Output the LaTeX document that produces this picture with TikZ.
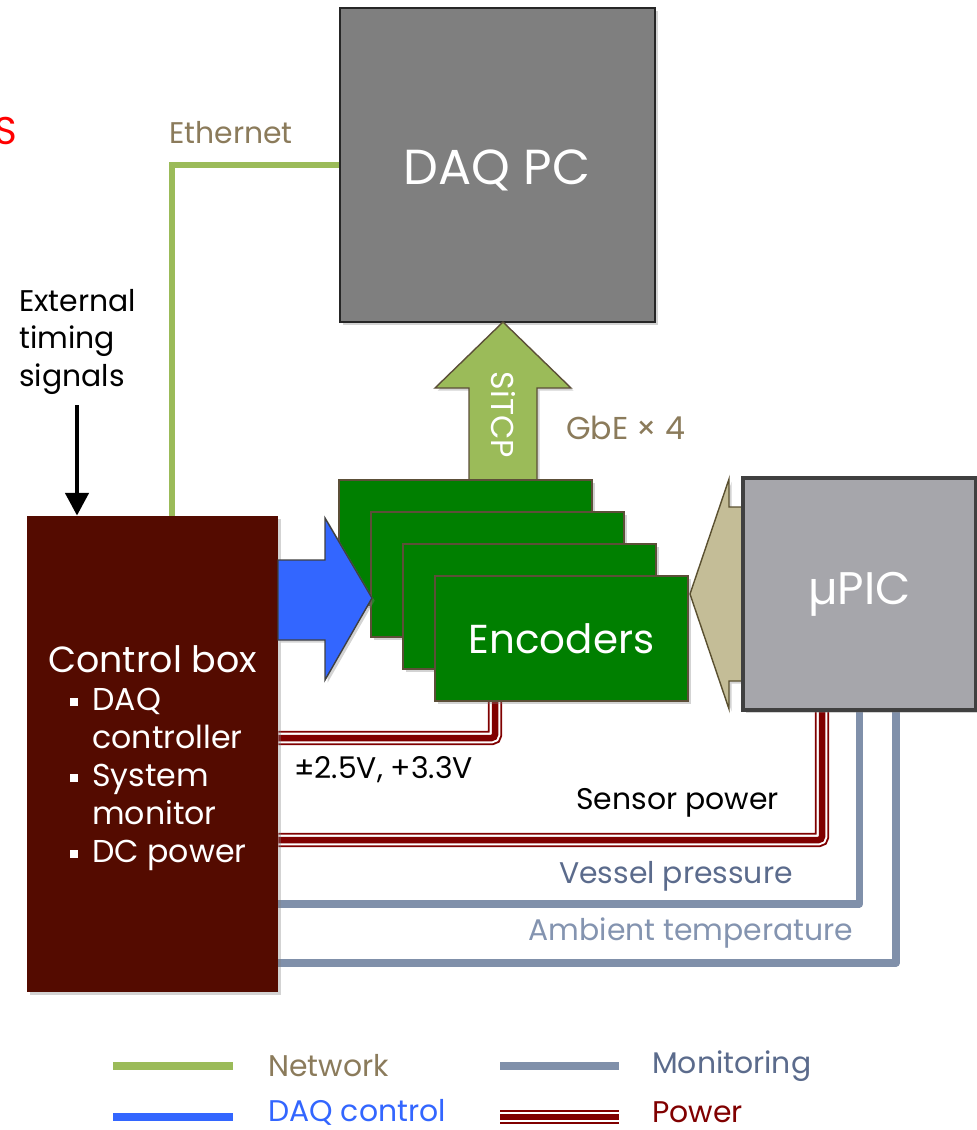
\documentclass[tikz,border=0pt]{standalone}
\usepackage{fontspec}
\setmainfont{Poppins}
\usetikzlibrary{arrows.meta,shadows,backgrounds}

\definecolor{pcgray}{HTML}{7F7F7F}
\definecolor{pcedge}{HTML}{262626}
\definecolor{ctrlred}{HTML}{540B00}
\definecolor{encgreen}{HTML}{007F00}
\definecolor{encedge}{HTML}{5C4F38}
\definecolor{netgreen}{HTML}{9BBB59}
\definecolor{daqblue}{HTML}{3366FF}
\definecolor{monblue}{HTML}{8090AA}
\definecolor{pwrred}{HTML}{800000}
\definecolor{upictan}{HTML}{C4BD97}
\definecolor{tanedge}{HTML}{5A5030}
\definecolor{upicgray}{HTML}{A6A6AB}
\definecolor{upicedge}{HTML}{404040}
\definecolor{lblbrown}{HTML}{8B7B5B}
\definecolor{lblslate}{HTML}{5B6B8C}
\definecolor{lbllight}{HTML}{8494B0}

\newcommand{\bulsq}{\raisebox{0.25ex}{\rule{0.25em}{0.25em}}}

\begin{document}
\begin{tikzpicture}[x=0.02cm,y=-0.02cm,
		box/.style={rectangle,inner sep=0pt,text=white,
			drop shadow={opacity=0.35,shadow xshift=1.5pt,shadow yshift=-1.5pt}},
		encbox/.style={box,fill=encgreen,draw=encedge,line width=1.1pt,
			minimum width=5.06cm,minimum height=2.5cm},
		net/.style={draw=netgreen,line width=3.5pt},
		mon/.style={draw=monblue,line width=4pt,line join=round},
		pwr/.style={draw=pwrred,line width=8.2pt,rounded corners=2pt,
			postaction={draw=white,line width=6pt},
			postaction={draw=pwrred,line width=3.7pt}},
		fatarrow/.style={line width=0.8pt,
			drop shadow={opacity=0.35,shadow xshift=1.5pt,shadow yshift=-1.5pt}},
		lbl/.style={font=\fontsize{17}{21.3}\selectfont}
		]
		\useasboundingbox (0,0) rectangle (977,1130);
		
		% main blocks
		\node[box,fill=pcgray,draw=pcedge,line width=1.2pt,minimum width=6.3cm,
		minimum height=6.28cm,font=\fontsize{28}{30}\selectfont](pc) at (497.5,165){};
		\node[text=white,font=\fontsize{28}{30}\selectfont](pctext) at (497,170){DAQ PC};
		
		\fill[netgreen,draw=encedge,fatarrow] (503,322) -- (571,388) -- (537,388) -- (537,480)
		-- (469,480) -- (469,388) -- (435,388) -- cycle;
		\node[text=white,rotate=-90,font=\fontsize{18}{21}\selectfont](sitcp) at (503,415){SiTCP};
		
		\node[encbox](enc1) at (465.5,542.5){};
		\node[encbox](enc2) at (497.5,574.5){};
		\node[encbox](enc3) at (529.5,606.5){};
		\node[encbox,font=\fontsize{23}{26}\selectfont](enc4) at (561.5,638.5){Encoders};
		
		\node[box,fill=ctrlred,minimum width=5.02cm,minimum height=9.52cm](ctrl) at (152.5,754){};
		\node[text=white,align=left,anchor=west,inner sep=0pt,font=\fontsize{18}{21.6}\selectfont](ctrltext) at (48,758)
		{{\fontsize{20.7}{21.6}\selectfont Control box}\\
			\hspace*{0.44cm}\makebox[0.44cm][l]{\bulsq}DAQ\\
			\hspace*{0.88cm}controller\\
			\hspace*{0.44cm}\makebox[0.44cm][l]{\bulsq}System\\
			\hspace*{0.88cm}monitor\\
			\hspace*{0.44cm}\makebox[0.44cm][l]{\bulsq}DC power};
		
		\fill[daqblue,draw=upicedge,fatarrow] (278,560) -- (325,560) -- (325,518) -- (372,598)
		-- (325,680) -- (325,640) -- (278,640) -- cycle;
		
		\fill[upictan,draw=tanedge,fatarrow] (743,507) -- (729,507) -- (729,479) -- (690,594)
		-- (729,709) -- (729,681) -- (743,681) -- cycle;
		\node[box,fill=upicgray,draw=upicedge,line width=2.3pt,minimum width=4.66cm,
		minimum height=4.64cm,font=\fontsize{26}{30}\selectfont](upic) at (859.5,594){µPIC};
		
		% connectors
		\begin{pgfonlayer}{background}
			\draw[net] ([xshift=0.39cm]ctrl.north) |- (pc.west);
			\draw[pwr] (ctrl.east |- 0,738) -| ([xshift=-1.33cm]enc4.south);
			\draw[pwr] (ctrl.east |- 0,840) -| ([xshift=-0.75cm]upic.south);
			\draw[mon] (ctrl.east |- 0,904) -| (upic.south);
			\draw[mon] (ctrl.east |- 0,963) -| ([xshift=0.73cm]upic.south);
		\end{pgfonlayer}
		\coordinate (ext) at (77,405);
		\draw[line width=2.8pt,-{Triangle[width=13pt,length=13pt]}] (ext) -- (ext |- ctrl.north);
		
		% labels
		\node[text=red,anchor=east,font=\fontsize{22}{26}\selectfont](s) at (23,131){S};
		\node[text=lblbrown,lbl](eth) at (231,133){Ethernet};
		\node[align=left,anchor=north west,lbl,inner sep=0pt](exttext) at (19,289){External\\timing\\signals};
		\node[text=lblbrown,anchor=west,font=\fontsize{18}{21}\selectfont](gbe) at (560,428){GbE × 4};
		\node[anchor=west,lbl](lv) at (288,770){±2.5V, +3.3V};
		\node[anchor=east,lbl](sens) at (785,803){Sensor power};
		\node[text=lblslate,lbl](vess) at (676,876){Vessel pressure};
		\node[text=lbllight,lbl](amb) at (691,933){Ambient temperature};
		
		% legend
		\draw[netgreen,line width=4.5pt] (113,1066) -- (233,1066);
		\node[text=lblbrown,anchor=west,lbl](lnet) at (262,1066){Network};
		\draw[daqblue,line width=4.5pt] (113,1117) -- (233,1117);
		\node[text=daqblue,anchor=west,lbl](ldaq) at (262,1112){DAQ control};
		\draw[monblue,line width=4.5pt] (500,1066) -- (619,1066);
		\node[text=lblslate,anchor=west,lbl](lmon) at (646,1066){Monitoring};
		\draw[pwr,rounded corners=0pt] (500,1117) -- (619,1117);
		\node[text=pwrred,anchor=west,lbl](lpwr) at (646,1112){Power};
	\end{tikzpicture}
\end{document}
